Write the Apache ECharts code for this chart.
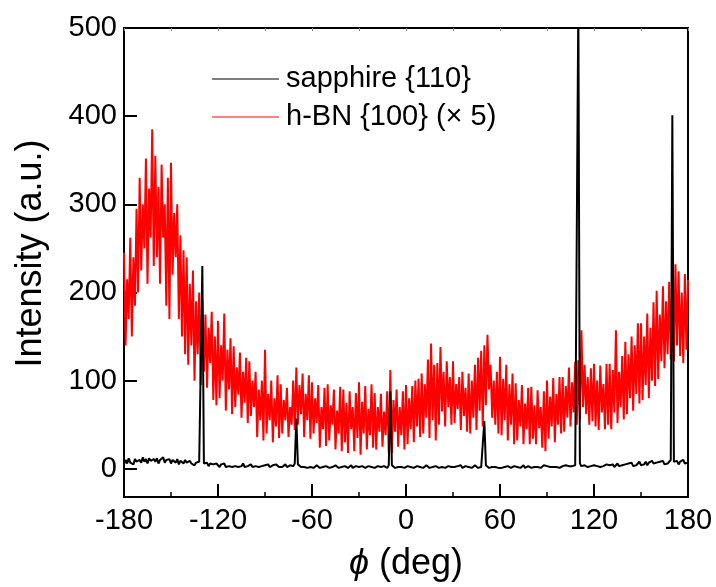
<!DOCTYPE html>
<html>
<head>
<meta charset="utf-8">
<script src="https://cdn.jsdelivr.net/npm/echarts@6/dist/echarts.min.js"></script>
<style>html,body{margin:0;padding:0;background:#fff}#c{width:716px;height:587px}</style>
</head>
<body>
<div id="c"></div>
<script>
// phi sampling grid of the scan (deg)
const PHI_START = -180;
const PHI_STEP = 1;
const xTicks = [-180, -120, -60, 0, 60, 120, 180];
const yTicks = [0, 100, 200, 300, 400, 500];
const seriesNames = ['sapphire {110}', 'h-BN {100} (\u00d7 5)'];

// sapphire {110}, one value per degree from -180 to 180
const sapphire = [
  5,10,6,12,7,9,5,11,8,6,
  10,7,13,8,11,6,12,9,7,11,
  8,12,6,10,9,13,7,10,8,11,
  6,10,9,7,11,5,9,8,6,10,
  7,5,9,6,8,4,7,5,8,6,
  230,6,4,7,3,6,4,5,3,6,
  4,2,5,3,6,2,4,3,5,2,
  4,3,5,2,4,3,6,2,4,3,
  3,5,2,4,3,5,2,4,3,2,
  4,3,5,2,3,4,2,5,3,2,
  4,2,3,5,2,3,4,2,3,6,
  57,5,3,2,4,2,3,1,3,2,
  3,1,2,4,2,1,3,2,1,3,
  2,1,3,2,1,4,2,1,3,2,
  1,3,2,1,2,4,1,2,3,1,
  2,1,3,2,1,2,3,1,2,3,
  1,2,3,1,2,1,3,2,1,4,
  88,4,2,1,3,2,1,2,3,1,
  2,3,1,2,4,1,2,3,1,2,
  3,1,2,4,2,1,3,2,1,3,
  2,1,3,2,4,1,2,3,1,2,
  3,2,1,3,2,4,1,2,3,1,
  2,3,1,2,4,2,1,3,2,4,
  54,4,2,1,3,2,1,2,3,1,
  2,1,3,2,1,3,2,1,2,3,
  1,2,3,1,2,4,1,2,3,2,
  1,3,2,1,2,3,1,2,4,2,
  3,1,2,3,2,4,2,3,1,2,
  3,2,4,2,3,1,3,2,4,5,
  530,6,3,2,4,3,2,4,3,2,
  4,2,3,5,2,4,3,2,5,3,
  4,3,5,2,4,6,3,5,4,3,
  5,3,6,4,7,3,5,4,6,8,
  4,6,5,8,4,7,5,9,6,4,
  7,5,8,6,9,5,7,6,8,10,
  401,8,6,9,5,8,7,10,6,8,7
];

// h-BN {100} (x5), one value per degree from -180 to 180
const hbn = [
  245,140,215,170,262,150,240,185,295,200,
  330,225,300,250,352,210,318,262,385,230,
  355,240,320,210,345,262,300,185,330,170,
  347,220,290,240,300,170,265,150,248,130,
  240,118,210,140,225,100,190,130,200,95,
  192,110,175,92,160,120,178,78,150,72,
  168,80,140,100,176,66,135,90,148,62,
  139,70,115,84,132,58,110,75,126,52,
  122,60,100,70,110,36,90,55,100,32,
  135,40,85,55,100,30,80,48,106,35,
  96,40,78,55,92,36,70,50,100,44,
  115,50,95,62,108,36,85,55,106,34,
  98,40,80,52,95,24,70,45,92,26,
  96,32,72,50,90,22,66,40,93,20,
  90,30,75,18,88,45,70,20,86,35,
  98,16,76,40,94,22,68,38,96,24,
  86,22,70,42,85,25,65,38,88,18,
  112,18,78,42,90,25,70,38,88,22,
  95,28,80,45,94,30,100,48,102,36,
  108,40,96,58,124,35,142,55,118,32,
  120,50,138,65,110,48,122,70,104,50,
  122,52,96,68,104,44,110,60,92,42,
  108,40,100,58,118,44,126,66,134,48,
  140,72,152,90,118,58,100,50,110,40,
  127,38,102,55,118,32,96,50,108,28,
  97,32,78,48,95,28,74,45,92,28,
  93,34,72,28,89,46,70,24,88,20,
  100,34,82,48,103,30,85,50,104,40,
  104,42,94,58,115,48,98,64,121,50,
  123,56,157,70,118,62,104,50,114,54,
  119,48,100,44,117,64,96,45,119,50,
  119,45,112,64,157,52,110,70,128,56,
  144,62,130,80,150,66,140,85,165,74,
  165,78,150,95,176,80,160,100,189,94,
  202,102,175,122,207,114,190,130,212,124,
  216,122,232,140,224,128,200,120,221,135,214
];

function pairs(vals) {
  return vals.map((v, i) => [PHI_START + i * PHI_STEP, v]);
}

const FONT = '"Liberation Sans", Arial, "DejaVu Sans", sans-serif';
const chart = echarts.init(document.getElementById('c'), null, {renderer: 'canvas'});
chart.setOption({
  animation: false,
  backgroundColor: '#fff',
  grid: {left: 124, top: 28, width: 564, height: 470, show: true, borderColor: '#000', borderWidth: 2, containLabel: false},
  legend: {
    data: seriesNames,
    orient: 'vertical',
    left: 207, top: 59,
    icon: 'rect',
    itemWidth: 67, itemHeight: 1.2,
    itemGap: 8,
    textStyle: {fontSize: 29, color: '#000', fontFamily: FONT, lineHeight: 30, padding: [0, 0, 0, 2]}
  },
  xAxis: [{
    type: 'value', min: -180, max: 180, interval: 60, position: 'bottom',
    axisLine: {show: true, onZero: false, lineStyle: {color: '#000', width: 2}},
    axisTick: {show: true, inside: true, length: 13, lineStyle: {color: '#000', width: 2}},
    minorTick: {show: true, splitNumber: 2, length: 5, lineStyle: {color: '#000', width: 1.5}},
    splitLine: {show: false},
    axisLabel: {fontSize: 29, color: '#000', fontFamily: FONT, margin: 9, customValues: xTicks},
    name: '{i|\u03d5} (deg)', nameLocation: 'middle', nameGap: 49,
    nameTextStyle: {fontSize: 36, color: '#000', fontFamily: FONT,
      rich: {i: {fontSize: 36, fontStyle: 'italic', fontFamily: FONT, color: '#000'}}}
  }, {
    type: 'value', min: -180, max: 180, interval: 30, position: 'top',
    axisLine: {show: true, onZero: false, lineStyle: {color: '#000', width: 2}},
    axisTick: {show: true, inside: true, length: 3, lineStyle: {color: '#888', width: 1}},
    axisLabel: {show: false}, splitLine: {show: false}
  }],
  yAxis: [{
    type: 'value', min: -32, max: 500,
    axisLine: {show: true, onZero: false, lineStyle: {color: '#000', width: 2}},
    axisTick: {show: true, inside: true, length: 13, lineStyle: {color: '#000', width: 2}, customValues: yTicks},
    splitLine: {show: false},
    axisLabel: {fontSize: 29, color: '#000', fontFamily: FONT, margin: 7, customValues: yTicks},
    name: 'Intensity (a.u.)', nameLocation: 'middle', nameGap: 75,
    nameTextStyle: {fontSize: 36, color: '#000', fontFamily: FONT, padding: [0, 0, 0, 18]}
  }],
  series: [{
    name: seriesNames[1], type: 'line', data: pairs(hbn), symbol: 'none',
    lineStyle: {color: '#ff0000', width: 2}, itemStyle: {color: '#ff0000'}, z: 2, clip: true
  }, {
    name: seriesNames[0], type: 'line', data: pairs(sapphire), symbol: 'none',
    lineStyle: {color: '#000', width: 2}, itemStyle: {color: '#000'}, z: 3, clip: true
  }]
});
</script>
</body>
</html>
